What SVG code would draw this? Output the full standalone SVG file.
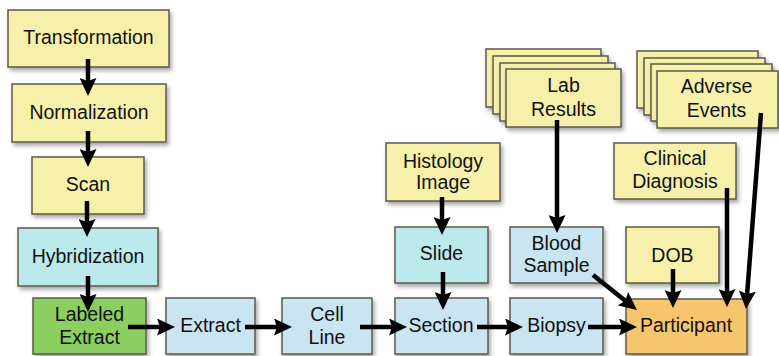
<svg xmlns="http://www.w3.org/2000/svg" width="779" height="356" viewBox="0 0 779 356">
<defs>
<filter id="sh" x="-10%" y="-10%" width="130%" height="140%">
<feDropShadow dx="2" dy="3" stdDeviation="2" flood-color="#000" flood-opacity="0.35"/>
</filter>
<marker id="ah" viewBox="0 0 18 17" refX="10" refY="8.5" markerWidth="18" markerHeight="17" markerUnits="userSpaceOnUse" orient="auto">
<path d="M0,0 L18,8.5 L0,17 L3,8.5 z" fill="#000"/>
</marker>
<style>
rect{stroke:#5c5a48;stroke-width:1.5;filter:url(#sh)}
.y{fill:#f7f0aa}
.c{fill:#bce9ec}
.b{fill:#c8e5f1}
.g{fill:#8acf5e}
.o{fill:#f7c56d}
text{font-family:"Liberation Sans",Arial,Helvetica,sans-serif;font-size:19.5px;fill:#111;text-anchor:middle}
.e{fill:none;stroke:#000;stroke-width:4.5;marker-end:url(#ah)}
</style>
</defs>
<rect x="0" y="0" width="779" height="356" fill="#fff" style="filter:none;stroke:none"/>
<g id="transformation"><rect class="y" x="8" y="10" width="161" height="57"/><text x="88.5" y="44">Transformation</text></g>
<g id="normalization"><rect class="y" x="12" y="84" width="154" height="58"/><text x="89" y="119">Normalization</text></g>
<g id="scan"><rect class="y" x="32" y="157" width="112" height="57"/><text x="88" y="191">Scan</text></g>
<g id="hybridization"><rect class="c" x="18" y="228" width="140" height="58"/><text x="88" y="263">Hybridization</text></g>
<g id="labeled-extract"><rect class="g" x="33" y="298" width="113" height="56"/><text x="89.5" y="321">Labeled</text><text x="89.5" y="344">Extract</text></g>
<g id="extract"><rect class="b" x="166" y="298" width="89" height="56"/><text x="210.5" y="332">Extract</text></g>
<g id="cell-line"><rect class="b" x="282" y="298" width="90" height="56"/><text x="327" y="321">Cell</text><text x="327" y="344">Line</text></g>
<g id="section"><rect class="b" x="395" y="298" width="93" height="56"/><text x="441" y="332">Section</text></g>
<g id="slide"><rect class="c" x="395" y="227" width="93" height="56"/><text x="441.5" y="260">Slide</text></g>
<g id="histology-image"><rect class="y" x="386" y="143" width="114" height="58"/><text x="443" y="168">Histology</text><text x="443" y="189">Image</text></g>
<g id="lab-results">
<rect class="y" x="486" y="49" width="115" height="58"/>
<rect class="y" x="493" y="56" width="115" height="58"/>
<rect class="y" x="500" y="63" width="115" height="58"/>
<rect class="y" x="506" y="69" width="115" height="58"/>
<text x="563.5" y="92">Lab</text><text x="563.5" y="116">Results</text></g>
<g id="adverse-events">
<rect class="y" x="637" y="51" width="121" height="57"/>
<rect class="y" x="644" y="58" width="121" height="57"/>
<rect class="y" x="651" y="64" width="121" height="57"/>
<rect class="y" x="657" y="71" width="121" height="57"/>
<text x="716.5" y="93">Adverse</text><text x="716.5" y="117">Events</text></g>
<g id="clinical-diagnosis"><rect class="y" x="614" y="143" width="122" height="56"/><text x="675" y="165">Clinical</text><text x="675" y="188">Diagnosis</text></g>
<g id="blood-sample"><rect class="b" x="510" y="227" width="93" height="56"/><text x="556.5" y="250">Blood</text><text x="556.5" y="272">Sample</text></g>
<g id="dob"><rect class="y" x="626" y="227" width="93" height="56"/><text x="672.5" y="262">DOB</text></g>
<g id="biopsy"><rect class="b" x="510" y="298" width="93" height="56"/><text x="556.5" y="332">Biopsy</text></g>
<g id="participant"><rect class="o" x="626" y="299" width="121" height="55"/><text x="686" y="332">Participant</text></g>
<g id="connectors">
<path class="e" d="M88,59 V88"/>
<path class="e" d="M88,131 V159"/>
<path class="e" d="M87,201 V229"/>
<path class="e" d="M88,276 V304"/>
<path class="e" d="M128,327 H167"/>
<path class="e" d="M245,327 H284"/>
<path class="e" d="M360,327 H399"/>
<path class="e" d="M477,327 H515"/>
<path class="e" d="M588,327 H629"/>
<path class="e" d="M443,272 V302"/>
<path class="e" d="M442,197 V227"/>
<path class="e" d="M557,120 V225"/>
<path class="e" d="M593,275 L630.7,305"/>
<path class="e" d="M673,269 V300"/>
<path class="e" d="M727,188 V299"/>
<path class="e" d="M761,113 L746.6,301"/>
</g>
</svg>
